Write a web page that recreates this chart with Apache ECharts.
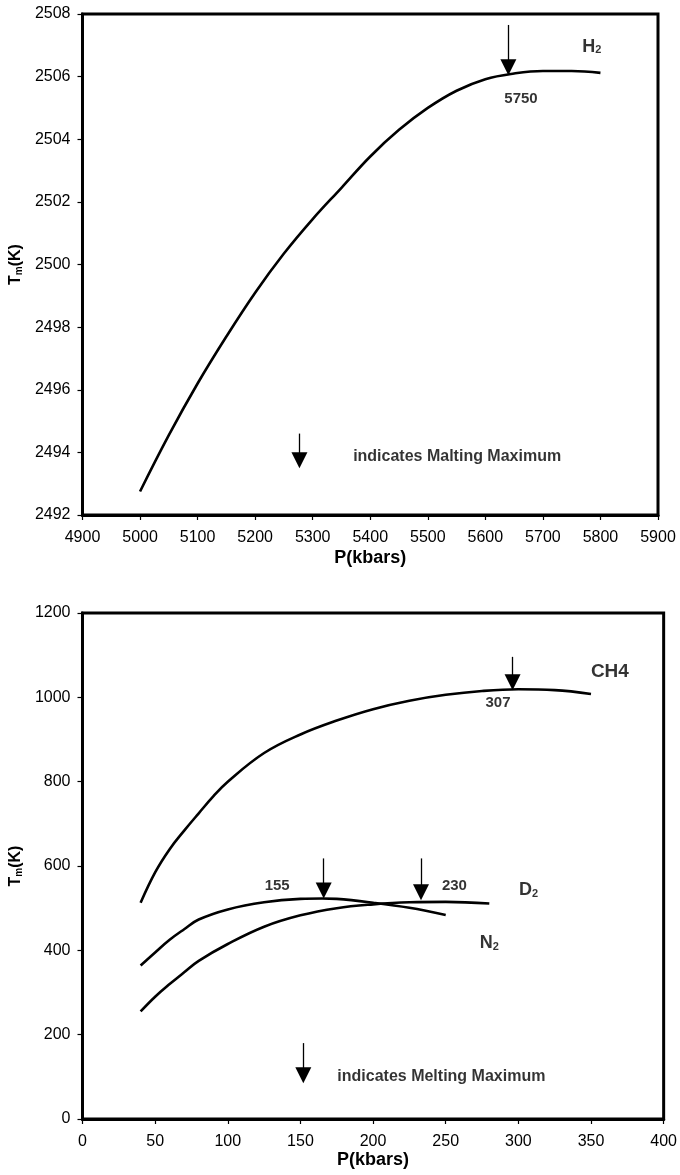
<!DOCTYPE html>
<html><head><meta charset="utf-8">
<script src="https://cdn.jsdelivr.net/npm/echarts@6/dist/echarts.min.js"></script>
<style>html,body{margin:0;padding:0;background:#fff}#c{width:680px;height:1175px}</style>
</head><body><div id="c"></div>
<script>
// ---------- Top panel: H2 ----------
const h2P = [5000,5050,5100,5150,5200,5250,5300,5350,5400,5450,5500,5550,5600,5650,5700,5750,5800];
const h2T = [2492.75,2494.55,2496.20,2497.70,2499.10,2500.35,2501.45,2502.45,2503.45,2504.30,2505.00,2505.55,2505.92,2506.10,2506.18,2506.18,2506.12];
const topXRange = [4900, 5900, 100];
const topYRange = [2492, 2508, 2];
// arrows: [P, T shaft top, T arrow-head centre]
const topArrows = [[5640, 2507.65, 2506.30], [5277, 2494.6, 2493.75]];
// text annotations: [text, P, T]
const topTexts = [['5750', 5662, 2505.3], ['H{sub|2}', 5785, 2506.95], ['indicates Malting Maximum', 5551, 2493.88]];

// ---------- Bottom panel: CH4, D2, N2 ----------
const ch4P = [40,50,60,70,80,90,100,125,150,175,200,225,250,275,300,325,350];
const ch4T = [513,585,640,684,725,765,800,868,912,945,972,992,1006,1015,1019,1017,1008];
const d2P = [40,50,60,70,80,100,125,150,175,200,225,250,280];
const d2T = [255,290,320,348,375,415,456,483,500,509,514,515,511];
const n2P = [40,50,60,70,80,100,125,150,165,175,200,225,250];
const n2T = [364,395,425,450,473,497,514,522,523,522,513,501,484];
const botXRange = [0, 400, 50];
const botYRange = [0, 1200, 200];
const botArrows = [[296, 1096, 1036], [166, 618, 542], [233, 618, 538], [152, 180, 104]];
const botTexts = [['307', 286, 986], ['CH4', 363, 1061], ['155', 134, 552], ['230', 256, 552], ['D{sub|2}', 307, 543], ['N{sub|2}', 280, 417], ['indicates Melting Maximum', 247, 100]];

// ---------- styles ----------
const FONT = 'Liberation Sans, Arial, sans-serif';
const textSize = {'5750':15,'307':15,'155':15,'230':15,'CH4':19,'H{sub|2}':18,'D{sub|2}':18,'N{sub|2}':18};
const zip = (a, b) => a.map((v, i) => [v, b[i]]);

function curve(name, P, T, gi, arrows) {
  const s = {
    name, type: 'line', xAxisIndex: gi, yAxisIndex: gi,
    data: zip(P, T), smooth: 0.4, symbol: 'none',
    lineStyle: {color: '#000', width: 2.6}, silent: true
  };
  if (arrows) {
    s.markLine = {
      silent: true, symbol: ['none', 'triangle'], symbolSize: 16,
      lineStyle: {color: '#000', width: 1.3, type: 'solid'},
      itemStyle: {color: '#000'},
      label: {show: false},
      data: arrows.map(a => [{coord: [a[0], a[1]]}, {coord: [a[0], a[2]]}])
    };
  }
  return s;
}
function texts(list, gi) {
  return {
    type: 'scatter', xAxisIndex: gi, yAxisIndex: gi, symbolSize: 1, silent: true,
    itemStyle: {color: 'rgba(0,0,0,0)'},
    data: list.map(t => ({
      name: t[0], value: [t[1], t[2]],
      label: {fontSize: textSize[t[0]] || 16,
        rich: {sub: {fontSize: Math.round((textSize[t[0]] || 16) * 0.62), fontWeight: 'bold', fontFamily: FONT, verticalAlign: 'bottom', lineHeight: 10}}}
    })),
    label: {show: true, position: 'inside', formatter: p => p.name, color: '#000', fontWeight: 'bold', fontFamily: FONT}
  };
}
function xAx(gi, r, gap) {
  return {
    gridIndex: gi, type: 'value', min: r[0], max: r[1], interval: r[2],
    name: 'P(kbars)', nameLocation: 'middle', nameGap: gap,
    nameTextStyle: {color: '#000', fontSize: 18, fontWeight: 'bold', fontFamily: FONT},
    axisLine: {show: true, lineStyle: {color: '#000', width: 3}},
    axisTick: {show: true, length: 5, lineStyle: {color: '#000', width: 1.2}},
    axisLabel: {color: '#000', fontSize: 16, fontFamily: FONT, margin: 15, formatter: v => String(v)},
    splitLine: {show: false}
  };
}
function yAx(gi, r) {
  return {
    gridIndex: gi, type: 'value', min: r[0], max: r[1], interval: r[2],
    name: 'T{sub|m}(K)', nameLocation: 'middle', nameGap: 52, nameRotate: 90,
    nameTextStyle: {color: '#000', fontSize: 16, fontWeight: 'bold', fontFamily: FONT,
      rich: {sub: {fontSize: 10, fontWeight: 'bold', fontFamily: FONT, verticalAlign: 'bottom'}}},
    axisLine: {show: true, lineStyle: {color: '#000', width: 3}},
    axisTick: {show: true, length: 5, lineStyle: {color: '#000', width: 1.2}},
    axisLabel: {color: '#000', fontSize: 16, fontFamily: FONT, margin: 12, formatter: v => String(v)},
    splitLine: {show: false}
  };
}

const chart = echarts.init(document.getElementById('c'), null, {renderer: 'canvas'});
chart.setOption({
  backgroundColor: '#fff',
  animation: false,
  grid: [
    {left: 77, top: 14, width: 581, height: 501, show: true, borderColor: '#000', borderWidth: 3, backgroundColor: 'transparent'},
    {left: 76, top: 613, width: 592, height: 506, show: true, borderColor: '#000', borderWidth: 3, backgroundColor: 'transparent'}
  ],
  xAxis: [xAx(0, topXRange, 34), xAx(1, botXRange, 30)],
  yAxis: [yAx(0, topYRange), yAx(1, botYRange)],
  series: [
    curve('H2', h2P, h2T, 0, topArrows),
    texts(topTexts, 0),
    curve('CH4', ch4P, ch4T, 1, botArrows),
    curve('D2', d2P, d2T, 1, null),
    curve('N2', n2P, n2T, 1, null),
    texts(botTexts, 1)
  ]
});
</script></body></html>
